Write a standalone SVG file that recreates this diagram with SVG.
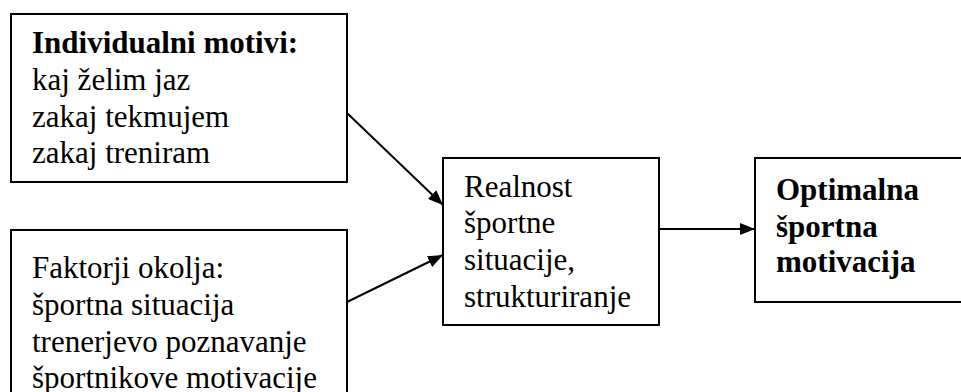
<svg xmlns="http://www.w3.org/2000/svg" width="961" height="392" viewBox="0 0 961 392">
<style>
.box{fill:#fff;stroke:#000;stroke-width:2}
text{font-family:"Liberation Serif","DejaVu Serif",serif;font-size:31px;fill:#000}
.b{font-weight:bold}
.c{stroke:#000;stroke-width:2;fill:none;marker-end:url(#ah)}
</style>
<defs>
<marker id="ah" viewBox="0 0 15 12" refX="15" refY="6" markerWidth="15" markerHeight="12" markerUnits="userSpaceOnUse" orient="auto">
<path d="M0,0 L15,6 L0,12 z" fill="#000"/>
</marker>
</defs>
<rect width="961" height="392" fill="#fff"/>
<g id="n1">
<rect class="box" x="11" y="14" width="336" height="168"/>
<text font-family="Liberation Serif, serif" x="32" y="53"><tspan class="b">Individualni motivi:</tspan><tspan x="32" y="90">kaj želim jaz</tspan><tspan x="32" y="127">zakaj tekmujem</tspan><tspan x="32" y="163">zakaj treniram</tspan></text>
</g>
<g id="n2">
<rect class="box" x="11" y="230" width="336" height="180"/>
<text font-family="Liberation Serif, serif" x="32" y="278">Faktorji okolja:<tspan x="32" y="315">športna situacija</tspan><tspan x="32" y="352">trenerjevo poznavanje</tspan><tspan x="32" y="388">športnikove motivacije</tspan></text>
</g>
<g id="n3">
<rect class="box" x="443" y="158" width="216" height="167"/>
<text font-family="Liberation Serif, serif" x="464" y="197">Realnost<tspan x="464" y="233">športne</tspan><tspan x="464" y="270">situacije,</tspan><tspan x="464" y="307">strukturiranje</tspan></text>
</g>
<g id="n4">
<rect class="box" x="755" y="158" width="220" height="144"/>
<text font-family="Liberation Serif, serif" class="b" x="776" y="200">Optimalna<tspan x="776" y="237">športna</tspan><tspan x="776" y="272">motivacija</tspan></text>
</g>
<g id="connectors">
<line class="c" x1="347" y1="113" x2="443" y2="205"/>
<line class="c" x1="347" y1="302" x2="443" y2="255"/>
<line class="c" x1="659" y1="229" x2="755" y2="229"/>
</g>
</svg>
